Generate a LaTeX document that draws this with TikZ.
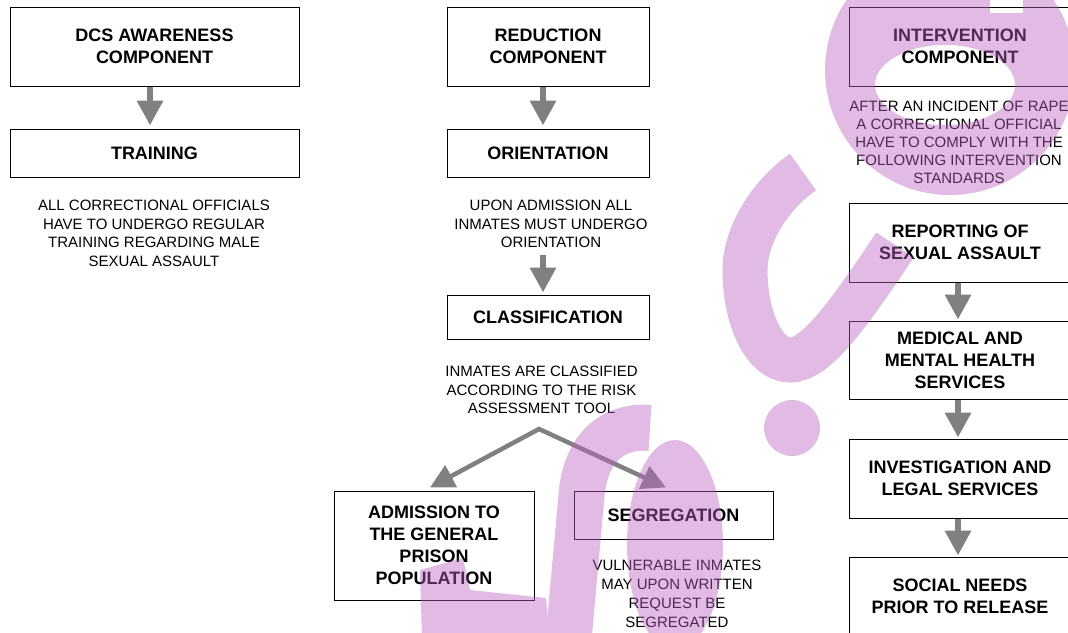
\documentclass[tikz,border=0pt]{standalone}
\usepackage{fontspec}
\setmainfont{Liberation Sans}
\usetikzlibrary{arrows.meta}
\definecolor{arrgray}{RGB}{128,128,128}
\definecolor{wmcol}{RGB}{187,98,192}
\tikzset{
  box/.style={draw=black, line width=1pt, fill=white, inner sep=0pt, align=center,
    font=\bfseries\fontsize{18}{22}\selectfont},
  note/.style={inner sep=0pt, align=center, anchor=north, font=\fontsize{15}{18.6}\selectfont},
  arr/.style={draw=arrgray, line width=6.7pt, -{Triangle[length=25pt,width=25pt]}},
  arrb/.style={draw=arrgray, line width=4.5pt, line join=miter,
    {Triangle[length=24pt,width=24pt]}-{Triangle[length=24pt,width=24pt]}},
  wm/.style={fill=wmcol},
  wmline/.style={draw=wmcol}
}
\begin{document}
\begin{tikzpicture}[x=1pt,y=-1pt]
\useasboundingbox (0,0) rectangle (1068,632);
\clip (0,0) rectangle (1068,632);
\fill[white] (0,0) rectangle (1068,632);

% left column
\node[box, minimum width=289pt, minimum height=79pt] (dcs) at (154.5,46.5) {DCS AWARENESS\\COMPONENT};
\node[box, minimum width=289pt, minimum height=48pt] (train) at (154.5,153) {TRAINING};
\node[note] (n1) at (154,200) {ALL CORRECTIONAL OFFICIALS\\HAVE TO UNDERGO REGULAR\\TRAINING REGARDING MALE\\SEXUAL ASSAULT};

% middle column
\node[box, minimum width=202pt, minimum height=79pt] (red) at (548,46.5) {REDUCTION\\COMPONENT};
\node[box, minimum width=202pt, minimum height=48pt] (ori) at (548,153) {ORIENTATION};
\node[note] (n2) at (551,200) {UPON ADMISSION ALL\\INMATES MUST UNDERGO\\ORIENTATION};
\node[box, minimum width=202pt, minimum height=44pt] (cls) at (548,317) {CLASSIFICATION};
\node[note] (n3) at (541.5,366) {INMATES ARE CLASSIFIED\\ACCORDING TO THE RISK\\ASSESSMENT TOOL};
\coordinate (apex) at (539,429);
\node[box, minimum width=200pt, minimum height=109pt] (adm) at (434,545.5) {ADMISSION TO\\THE GENERAL\\PRISON\\POPULATION};
\node[box, minimum width=199pt, minimum height=48pt] (seg) at (673.5,515) {SEGREGATION};
\node[note, font=\fontsize{15}{19}\selectfont] (n4) at (677,560) {VULNERABLE INMATES\\MAY UPON WRITTEN\\REQUEST BE\\SEGREGATED};

% right column
\node[box, minimum width=222pt, minimum height=79pt] (int) at (960,46.5) {INTERVENTION\\COMPONENT};
\node[note, font=\fontsize{15}{18.1}\selectfont] (n5) at (959,100.7) {AFTER AN INCIDENT OF RAPE\\A CORRECTIONAL OFFICIAL\\HAVE TO COMPLY WITH THE\\FOLLOWING INTERVENTION\\STANDARDS};
\node[box, minimum width=222pt, minimum height=79pt] (rep) at (960,242.5) {REPORTING OF\\SEXUAL ASSAULT};
\node[box, minimum width=222pt, minimum height=78pt] (med) at (960,360) {MEDICAL AND\\MENTAL HEALTH\\SERVICES};
\node[box, minimum width=222pt, minimum height=79pt] (inv) at (960,478.5) {INVESTIGATION AND\\LEGAL SERVICES};
\node[box, minimum width=222pt, minimum height=79pt] (soc) at (960,596.5) {SOCIAL NEEDS\\PRIOR TO RELEASE};

% connectors
\draw[arr] ([xshift=-4.5pt]dcs.south) -- ([xshift=-4.5pt,yshift=3pt]train.north);
\draw[arr] ([xshift=-5pt]red.south) -- ([xshift=-5pt,yshift=3pt]ori.north);
\draw[arr] ([xshift=-8pt,yshift=-7pt]n2.south) -- ([xshift=-5pt,yshift=2pt]cls.north);
\draw[arrb] ([xshift=-4pt,yshift=3pt]adm.north) -- (apex) -- ([xshift=-7.5pt,yshift=3pt]seg.north);
\draw[arr] ([xshift=-2pt]rep.south) -- ([xshift=-2pt,yshift=1pt]med.north);
\draw[arr] ([xshift=-2pt]med.south) -- ([xshift=-2pt,yshift=1pt]inv.north);
\draw[arr] ([xshift=-2pt]inv.south) -- ([xshift=-2pt,yshift=1pt]soc.north);

% watermark
\begin{scope}[transparency group, opacity=0.43]
  \fill[wm, even odd rule] (950,70) circle[radius=125] (945,85) ellipse[x radius=70, y radius=40]
    (990,-5) rectangle (1023,13);
  \draw[wmline, line width=45pt] (803,172) .. controls (770,195) and (745,235) .. (745,270)
    .. controls (745,320) and (765,360) .. (790,360)
    .. controls (815,360) and (845,320) .. (895,245);
  \fill[wm] (792,428) circle[radius=28];
  \draw[wmline, line width=46pt] (568,645) -- (582,490) .. controls (588,445) and (615,425) .. (650,428);
  \fill[wm] (675,545) ellipse[x radius=48, y radius=105];
  \fill[wm] (420,570) -- (463,558) -- (470,590) -- (546,598) -- (550,640) -- (422,640) -- cycle;
\end{scope}
\end{tikzpicture}
\end{document}
